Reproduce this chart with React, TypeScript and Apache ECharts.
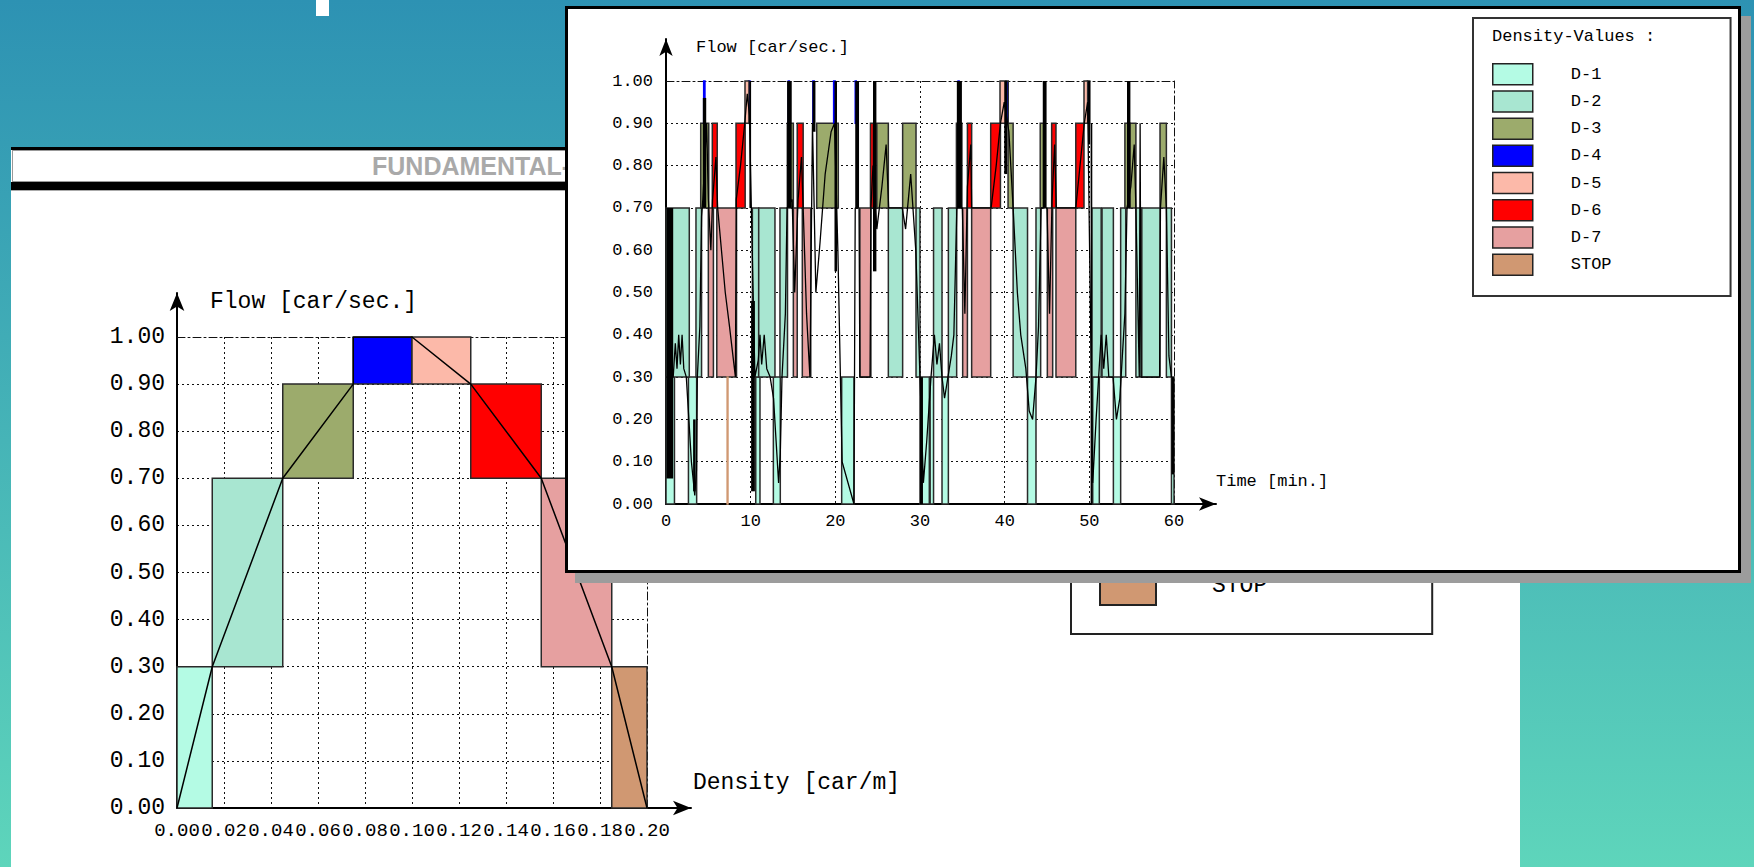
import React, { useEffect, useRef } from 'react';
import * as echarts from 'echarts';

// ---------- shared state definitions ----------
const stateNames = ['D-1', 'D-2', 'D-3', 'D-4', 'D-5', 'D-6', 'D-7', 'STOP'];
const stateColors = ['#b4fbe4', '#a8e6d1', '#9cab6c', '#0000ff', '#fcb9a9', '#ff0000', '#e6a0a0', '#d09872'];
const flowLow = [0, 0.3, 0.7, 0.9, 0.9, 0.7, 0.3, 0];
const flowHigh = [0.3, 0.7, 0.9, 1.0, 1.0, 0.9, 0.7, 0.3];

// ---------- fundamental diagram (density vs flow) ----------
const densityFrom = [0, 0.015, 0.045, 0.075, 0.1, 0.125, 0.155, 0.185];
const densityTo = [0.015, 0.045, 0.075, 0.1, 0.125, 0.155, 0.185, 0.2];
const fdLineDensity = [0, 0.015, 0.045, 0.075, 0.075, 0.1, 0.125, 0.155, 0.185, 0.2];
const fdLineFlow = [0, 0.3, 0.7, 0.9, 1.0, 1.0, 0.9, 0.7, 0.3, 0];
const fdVisibleLegend = ['STOP'];

// ---------- time series: state segments [start min, end min] ----------
const d1Segments = [[0, 1.0], [2.65, 3.62], [10.6, 11.1], [12.68, 13.5], [20.75, 22.2], [30.0, 31.1], [31.2, 31.6], [32.6, 33.35], [42.7, 43.7], [50.4, 51.18], [52.84, 53.7], [59.7, 60]];
const d2Segments = [[0, 2.75], [3.54, 4.2], [10.2, 10.95], [10.95, 12.87], [13.46, 14.35], [26.26, 27.95], [29.53, 30.0], [31.6, 32.6], [33.35, 34.33], [41.0, 42.7], [43.7, 44.25], [50.3, 51.4], [51.5, 52.84], [53.7, 54.3], [55.5, 56.2], [56.2, 58.35], [59.1, 59.7]];
const d3Segments = [[4.1, 5.05], [14.33, 15.04], [17.8, 20.35], [24.9, 26.26], [27.95, 29.53], [34.3, 34.95], [40.4, 41.0], [44.2, 44.6], [54.2, 54.8], [54.8, 55.5], [58.35, 59.1]];
const d4Segments = [[4.45, 4.6], [9.75, 9.92], [14.45, 14.57], [17.35, 17.5], [19.8, 19.98], [22.35, 22.47], [34.5, 34.62], [40.15, 40.42], [49.77, 50.05]];
const d5Segments = [[9.33, 9.8], [39.45, 40.15], [49.37, 49.8]];
const d6Segments = [[5.47, 6.05], [8.27, 9.35], [15.5, 16.2], [24.15, 24.5], [35.6, 36.1], [38.35, 39.5], [45.55, 46.06], [48.4, 49.37]];
const d7Segments = [[5.0, 5.6], [6.0, 8.33], [15.04, 15.5], [16.1, 17.1], [22.9, 24.2], [35.04, 35.6], [36.1, 38.35], [45.04, 45.67], [46.06, 48.4]];
const stopSegments = [[7.22, 7.32]];
const stateSegments = [d1Segments, d2Segments, d3Segments, d4Segments, d5Segments, d6Segments, d7Segments, stopSegments];

// rapid oscillation bursts of the measured flow: [start, end, low flow, high flow]
const bursts = [
  [0.05, 0.85, 0.06, 0.7], [3.2, 3.5, 0.03, 0.2], [4.35, 4.75, 0.7, 0.96], [9.85, 10.05, 0.7, 1.0],
  [10.05, 10.5, 0.03, 0.48], [14.3, 14.85, 0.7, 1.0], [17.3, 17.65, 0.88, 1.0], [19.9, 20.2, 0.55, 1.0],
  [22.35, 22.8, 0.7, 1.0], [24.45, 24.85, 0.55, 1.0], [30.0, 30.35, 0.0, 0.3], [34.35, 34.95, 0.7, 1.0],
  [39.95, 40.3, 0.78, 1.0], [44.5, 44.95, 0.7, 1.0], [49.85, 50.1, 0.85, 1.0], [50.15, 50.35, 0.0, 0.9],
  [54.45, 54.85, 0.7, 1.0], [59.7, 60.0, 0.07, 0.3],
];

// measured flow trace
const traceTime = [0.85, 1.1, 1.3, 1.5, 1.7, 1.9, 2.1, 2.4, 2.7, 3.0, 3.4, 3.6, 3.7, 4.0, 4.2, 4.35, 4.8, 5.0, 5.3, 5.5, 5.9, 6.1, 7.0, 7.5, 8.2, 8.3, 8.8, 9.3, 9.6, 9.85,
  10.5, 10.9, 11.1, 11.3, 11.6, 11.9, 12.3, 12.7, 13.0, 13.3, 13.5, 13.7, 14.1, 14.3, 14.9, 15.2, 15.6, 16.0, 16.2, 16.6, 17.0, 17.3, 17.7, 18.2, 18.8, 19.5, 19.9,
  20.3, 20.6, 20.8, 22.2, 22.35, 22.8, 22.9, 24.1, 24.2, 24.45, 24.9, 25.5, 26.0, 26.3, 27.9, 28.3, 28.9, 29.5, 30.0, 30.4, 30.8, 31.3, 31.7, 32.0, 32.3, 32.6, 32.9, 33.3, 33.7, 34.0, 34.35,
  35.0, 35.3, 35.6, 36.0, 36.1, 38.4, 39.0, 39.5, 39.95, 40.5, 41.0, 41.5, 41.9, 42.5, 42.9, 43.3, 43.7, 44.0, 44.3,
  45.0, 45.3, 45.6, 45.9, 46.1, 48.4, 48.9, 49.4, 49.8, 50.4, 50.8, 51.1, 51.4, 51.7, 52.0, 52.3, 52.8, 53.2, 53.6, 53.9, 54.2, 54.45,
  54.9, 55.3, 55.5, 55.9, 56.0, 56.1, 58.3, 58.4, 58.8, 59.1, 59.4, 59.7];
const traceFlow = [0.3, 0.38, 0.32, 0.4, 0.33, 0.4, 0.32, 0.3, 0.2, 0.1, 0.02, 0.08, 0.3, 0.42, 0.68, 0.72, 0.9, 0.72, 0.6, 0.72, 0.82, 0.7, 0.5, 0.42, 0.3, 0.72, 0.8, 0.9, 0.97, 0.92,
  0.3, 0.34, 0.4, 0.33, 0.4, 0.32, 0.3, 0.25, 0.15, 0.05, 0.12, 0.3, 0.45, 0.7, 0.72, 0.5, 0.72, 0.82, 0.7, 0.45, 0.3, 0.9, 0.5, 0.62, 0.78, 0.88, 0.9,
  0.6, 0.3, 0.1, 0.0, 0.7, 0.7, 0.3, 0.3, 0.7, 0.8, 0.65, 0.75, 0.85, 0.7, 0.7, 0.65, 0.78, 0.6, 0.3, 0.05, 0.15, 0.3, 0.4, 0.33, 0.38, 0.3, 0.25, 0.3, 0.35, 0.4, 0.7,
  0.7, 0.45, 0.75, 0.85, 0.7, 0.7, 0.8, 0.9, 0.95, 0.88, 0.7, 0.5, 0.4, 0.32, 0.22, 0.2, 0.3, 0.42, 0.7,
  0.7, 0.45, 0.72, 0.85, 0.7, 0.7, 0.8, 0.9, 0.95, 0.05, 0.2, 0.3, 0.4, 0.32, 0.4, 0.3, 0.3, 0.2, 0.25, 0.35, 0.45, 0.7,
  0.75, 0.85, 0.7, 0.3, 0.9, 0.3, 0.3, 0.7, 0.82, 0.7, 0.35, 0.3];

// ---------- styling helpers ----------
const mono = '"Liberation Mono", "DejaVu Sans Mono", monospace';
const dotted = { type: [2, 3], color: '#111', width: 1 };
const dashDot = { type: [8, 3, 2, 3], color: '#111', width: 1 };

const rectRender = (fill: string, stroke: string, lw: number) => (params: any, api: any) => {
  const a = api.coord([api.value(0), api.value(3)]);
  const b = api.coord([api.value(1), api.value(2)]);
  const w = b[0] - a[0];
  return {
    type: 'rect',
    shape: { x: a[0], y: a[1], width: w, height: b[1] - a[1] },
    style: { fill, stroke: w < 2 && stroke !== 'none' ? fill : stroke, lineWidth: stroke === 'none' ? 0 : lw },
  };
};

function buildAxes(o: {
  xMin: number; xMax: number; xInt: number; yMin: number; yMax: number; yInt: number;
  fontSize: number; xLabelSize: number; xFmt: (v: number) => string; xName: string; yName: string;
  xNameGap: number; xNameUp: number; yNameGap: number; yNameLeft: number; yLabelMargin: number; xLabelMargin: number;
  arrow: number[];
}) {
  const lbl = { fontFamily: mono, fontSize: o.fontSize, color: '#000' };
  const xAxis = [
    {
      type: 'value', gridIndex: 0, min: o.xMin, max: o.xMax, interval: o.xInt, position: 'bottom',
      axisLine: { show: false }, axisTick: { show: false },
      axisLabel: { ...lbl, fontSize: o.xLabelSize, interval: 0, margin: o.xLabelMargin, formatter: o.xFmt, hideOverlap: false, showMinLabel: true, showMaxLabel: true },
      splitLine: { show: true, showMinLine: false, showMaxLine: false, lineStyle: dotted },
      // second (blank) line lifts the name above the axis line
      name: o.xName + '\n ', nameLocation: 'end', nameGap: o.xNameGap,
      nameTextStyle: { ...lbl, align: 'left', verticalAlign: 'middle', lineHeight: o.xNameUp * 2 },
    },
    {
      type: 'value', gridIndex: 0, min: o.xMin, max: o.xMax, interval: o.xInt, position: 'top',
      axisLine: { show: true, onZero: false, lineStyle: dashDot }, axisTick: { show: false }, axisLabel: { show: false }, splitLine: { show: false },
    },
    {
      type: 'value', gridIndex: 1, min: 0, max: 1,
      axisLine: { show: true, onZero: false, symbol: ['none', 'arrow'], symbolSize: o.arrow, lineStyle: { color: '#000', width: 2 } },
      axisTick: { show: false }, axisLabel: { show: false }, splitLine: { show: false },
    },
  ];
  const yAxis = [
    {
      type: 'value', gridIndex: 0, min: o.yMin, max: o.yMax, interval: o.yInt, position: 'left',
      axisLine: { show: false }, axisTick: { show: false },
      axisLabel: { ...lbl, margin: o.yLabelMargin, formatter: (v: number) => v.toFixed(2) },
      splitLine: { show: true, showMaxLine: false, lineStyle: dotted },
      name: o.yName, nameLocation: 'end', nameGap: o.yNameGap,
      nameTextStyle: { ...lbl, align: 'left', verticalAlign: 'middle', padding: [0, 0, 0, o.yNameLeft] },
    },
    {
      type: 'value', gridIndex: 0, min: o.yMin, max: o.yMax, interval: o.yInt, position: 'right',
      axisLine: { show: true, onZero: false, lineStyle: dashDot }, axisTick: { show: false }, axisLabel: { show: false }, splitLine: { show: false },
    },
    {
      type: 'value', gridIndex: 1, min: 0, max: 1,
      axisLine: { show: true, onZero: false, symbol: ['none', 'arrow'], symbolSize: o.arrow, lineStyle: { color: '#000', width: 2 } },
      axisTick: { show: false }, axisLabel: { show: false }, splitLine: { show: false },
    },
  ];
  return { xAxis, yAxis };
}

function leftOption(): any {
  const axes = buildAxes({
    xMin: 0, xMax: 0.2, xInt: 0.02, yMin: 0, yMax: 1, yInt: 0.1, fontSize: 23, xLabelSize: 19,
    xFmt: (v) => v.toFixed(2), xName: 'Density [car/m]', yName: 'Flow [car/sec.]',
    xNameGap: 46, xNameUp: 25, yNameGap: 35, yNameLeft: 33, yLabelMargin: 12, xLabelMargin: 13, arrow: [11, 18],
  });
  const rectSeries = stateNames.map((name, i) => ({
    type: 'custom', name, xAxisIndex: 0, yAxisIndex: 0, z: 3,
    itemStyle: { color: stateColors[i] },
    encode: { x: [0, 1], y: [2, 3] },
    renderItem: rectRender(stateColors[i], '#2a2a2a', 1.5),
    data: [[densityFrom[i], densityTo[i], flowLow[i], flowHigh[i]]],
  }));
  return {
    animation: false,
    graphic: [
      {
        type: 'text', x: 372, y: 166, silent: true,
        style: { text: 'FUNDAMENTAL-', fill: '#a9a9a9', fontSize: 25, fontWeight: 'bold', fontFamily: '"Liberation Sans", Arial, sans-serif', verticalAlign: 'middle' },
      },
    ],
    legend: {
      orient: 'vertical', left: 1071, top: 516, padding: [50, 165, 28, 28],
      itemWidth: 56, itemHeight: 38, itemGap: 10, icon: 'rect',
      itemStyle: { borderColor: '#222', borderWidth: 2 },
      textStyle: { fontFamily: mono, fontSize: 23, color: '#000', padding: [0, 0, 0, 51] },
      borderColor: '#222', borderWidth: 2, backgroundColor: '#fff',
      data: fdVisibleLegend, selectedMode: false,
    },
    grid: [
      { left: 177, top: 337, width: 470, height: 471 },
      { left: 177, top: 293, width: 514, height: 515 },
    ],
    ...axes,
    series: [
      ...rectSeries,
      {
        type: 'line', name: 'Fundamental', xAxisIndex: 0, yAxisIndex: 0, z: 5, symbol: 'none',
        lineStyle: { color: '#000', width: 1.5 },
        data: fdLineDensity.map((d, i) => [d, fdLineFlow[i]]),
      },
    ],
  };
}

function rightOption(): any {
  const axes = buildAxes({
    xMin: 0, xMax: 60, xInt: 10, yMin: 0, yMax: 1, yInt: 0.1, fontSize: 17, xLabelSize: 17,
    xFmt: (v) => String(v), xName: 'Time [min.]', yName: 'Flow [car/sec.]',
    xNameGap: 42, xNameUp: 23, yNameGap: 34, yNameLeft: 30, yLabelMargin: 13, xLabelMargin: 9, arrow: [10, 17],
  });
  const rectSeries = stateNames.map((name, i) => ({
    type: 'custom', name, xAxisIndex: 0, yAxisIndex: 0, z: 3,
    itemStyle: { color: stateColors[i] },
    encode: { x: [0, 1], y: [2, 3] },
    renderItem: rectRender(stateColors[i], '#2a2a2a', 1.5),
    data: stateSegments[i].map(([a, b]) => [a, b, flowLow[i], flowHigh[i]]),
  }));
  return {
    animation: false,
    title: {
      text: 'Density-Values :', left: 924, top: 19, padding: 0,
      textStyle: { fontFamily: mono, fontSize: 17, fontWeight: 'normal', color: '#000' },
    },
    legend: {
      orient: 'vertical', left: 905, top: 9, padding: [45, 119, 20, 19],
      itemWidth: 40, itemHeight: 21, itemGap: 4.7, icon: 'rect',
      itemStyle: { borderColor: '#222', borderWidth: 1.5 },
      textStyle: { fontFamily: mono, fontSize: 17, color: '#000', padding: [0, 0, 0, 33] },
      borderColor: '#333', borderWidth: 2,
      data: stateNames, selectedMode: false,
    },
    grid: [
      { left: 98, top: 72, width: 508, height: 423 },
      { left: 98, top: 30, width: 550, height: 465 },
    ],
    ...axes,
    series: [
      ...rectSeries,
      {
        type: 'custom', name: 'bursts', xAxisIndex: 0, yAxisIndex: 0, z: 4,
        encode: { x: [0, 1], y: [2, 3] },
        renderItem: rectRender('#000', 'none', 0),
        data: bursts,
      },
      {
        type: 'line', name: 'Flow trace', xAxisIndex: 0, yAxisIndex: 0, z: 5, symbol: 'none',
        lineStyle: { color: '#000', width: 1.3 },
        data: traceTime.map((t, i) => [t, traceFlow[i]]),
      },
    ],
  };
}

export default function App() {
  const leftRef = useRef<HTMLDivElement>(null);
  const rightRef = useRef<HTMLDivElement>(null);
  useEffect(() => {
    const l = echarts.init(leftRef.current!, null, { renderer: 'svg' });
    l.setOption(leftOption());
    const r = echarts.init(rightRef.current!, null, { renderer: 'svg' });
    r.setOption(rightOption());
    return () => {
      l.dispose();
      r.dispose();
    };
  }, []);
  return (
    <div
      style={{
        position: 'fixed', left: 0, top: 0, width: 1754, height: 867, overflow: 'hidden',
        background: 'linear-gradient(180deg, #2d92b3 0%, #5ed5bb 100%)',
      }}
    >
      <div style={{ position: 'absolute', left: 316, top: 0, width: 13, height: 16, background: '#fff' }} />
      <div style={{ position: 'absolute', left: 11, top: 147, width: 1509, height: 720, background: '#fff' }}>
        <div style={{ position: 'absolute', left: 0, top: 0, width: '100%', height: 3, background: '#000' }} />
        <div style={{ position: 'absolute', left: 1, top: 3, width: 1505, height: 30, border: '1px solid #999' }} />
        <div style={{ position: 'absolute', left: 0, top: 35, width: '100%', height: 8, background: '#000' }} />
        <div style={{ position: 'absolute', left: 0, top: 43, width: '100%', height: 1, background: '#aaa' }} />
      </div>
      <div ref={leftRef} style={{ position: 'absolute', left: 0, top: 0, width: 1754, height: 867 }} />
      <div
        style={{
          position: 'absolute', left: 565, top: 6, width: 1176, height: 567, background: '#fff',
          border: '3px solid #000', boxSizing: 'border-box', boxShadow: '10px 10px 0 #9c9c9c',
        }}
      >
        <div ref={rightRef} style={{ width: 1170, height: 561 }} />
      </div>
    </div>
  );
}
